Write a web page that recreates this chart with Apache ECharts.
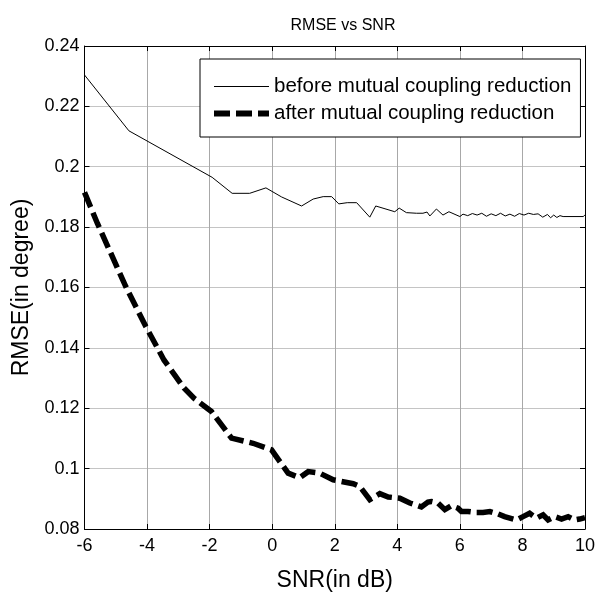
<!DOCTYPE html>
<html>
<head>
<meta charset="utf-8">
<script src="https://cdn.jsdelivr.net/npm/echarts@6/dist/echarts.min.js"></script>
<style>
html,body{margin:0;padding:0;background:#fff;}
#main{width:599px;height:603px;}
</style>
</head>
<body>
<div id="main"></div>
<script>
var titleText = 'RMSE vs SNR';
var xName = 'SNR(in dB)';
var yName = 'RMSE(in degree)';
var seriesNames = ['before mutual coupling reduction', 'after mutual coupling reduction'];

var snrBefore = [-6, -4.58, -1.92, -1.28, -0.72, -0.2, 0.3, 0.94, 1.31, 1.63, 1.9, 2.13, 2.4, 2.7, 3.12, 3.31, 3.92, 4.06, 4.29, 4.61, 4.82, 4.95, 5.04, 5.25, 5.46, 5.65, 6.0, 6.1, 6.25, 6.4, 6.55, 6.7, 6.85, 7.0, 7.15, 7.3, 7.45, 7.6, 7.75, 7.9, 8.05, 8.2, 8.35, 8.5, 8.65, 8.8, 8.9, 9.0, 9.1, 9.2, 9.3, 9.95, 10.0];
var rmseBefore = [0.2304, 0.2119, 0.1965, 0.1912, 0.1912, 0.1930, 0.1900, 0.1870, 0.1893, 0.1901, 0.1901, 0.1877, 0.1881, 0.1881, 0.1833, 0.1870, 0.1851, 0.1863, 0.1848, 0.1846, 0.1846, 0.1850, 0.1837, 0.1860, 0.1840, 0.1851, 0.1835, 0.1843, 0.1838, 0.1845, 0.1840, 0.1846, 0.1836, 0.1844, 0.1838, 0.1846, 0.1837, 0.1843, 0.1836, 0.1845, 0.1840, 0.1846, 0.1842, 0.1844, 0.1833, 0.1842, 0.1831, 0.1840, 0.1832, 0.1838, 0.1835, 0.1835, 0.1841];

var snrAfter = [-6, -5.59, -4.68, -4.04, -3.46, -2.82, -2.5, -2.08, -1.94, -1.3, -0.61, -0.02, 0.51, 0.88, 1.15, 1.52, 1.95, 2.59, 2.8, 3.12, 3.44, 3.71, 4.08, 4.4, 4.77, 4.98, 5.09, 5.3, 5.52, 5.73, 5.94, 6.05, 6.26, 6.48, 6.74, 6.96, 7.22, 7.43, 7.81, 8.02, 8.23, 8.45, 8.66, 8.82, 9.03, 9.25, 9.46, 9.67, 9.83, 10.0];
var rmseAfter = [0.1915, 0.1813, 0.1603, 0.1471, 0.1360, 0.1267, 0.1233, 0.1200, 0.1189, 0.1101, 0.1084, 0.1062, 0.0985, 0.0970, 0.0990, 0.0985, 0.0963, 0.0950, 0.0941, 0.0897, 0.0917, 0.0906, 0.0902, 0.0886, 0.0873, 0.0889, 0.0891, 0.0886, 0.0864, 0.0877, 0.0869, 0.0858, 0.0858, 0.0855, 0.0855, 0.0858, 0.0850, 0.0841, 0.0830, 0.0841, 0.0852, 0.0836, 0.0847, 0.0830, 0.0841, 0.0833, 0.0841, 0.0830, 0.0833, 0.0838];

var xTicks = {min: -6, max: 10, interval: 2};
var yTicks = {min: 0.08, max: 0.24, interval: 0.02};

function pairs(xs, ys) { return xs.map(function (x, i) { return [x, ys[i]]; }); }

var FONT = 'Liberation Sans, Arial, Helvetica, sans-serif';
var chart = echarts.init(document.getElementById('main'), null, {renderer: 'canvas'});
var tickStyle = {show: true, inside: true, length: 5, lineStyle: {color: '#000', width: 1}};
var dashPattern = [16, 6];
chart.setOption({
  animation: false,
  backgroundColor: '#fff',
  title: {
    text: titleText, left: 338, top: 13, textAlign: 'center',
    textStyle: {fontFamily: FONT, fontSize: 16, fontWeight: 'normal', color: '#000'}
  },
  grid: {left: 84.5, right: 14, top: 46, bottom: 74, containLabel: false},
  legend: {
    orient: 'vertical', left: 200, top: 59,
    padding: [17, 9, 13, 11], itemGap: 6, itemWidth: 55, itemHeight: 14,
    backgroundColor: '#fff', borderColor: '#000', borderWidth: 1, borderRadius: 0,
    textStyle: {fontFamily: FONT, fontSize: 20.5, color: '#000', lineHeight: 20},
    itemStyle: {opacity: 0, color: 'transparent', borderWidth: 0},
    data: [
      {name: seriesNames[0], lineStyle: {color: '#000', width: 1, type: 'solid'}},
      {name: seriesNames[1], lineStyle: {color: '#000', width: 6, type: dashPattern, cap: 'butt'}}
    ]
  },
  xAxis: [{
    type: 'value', min: xTicks.min, max: xTicks.max, interval: xTicks.interval,
    name: xName, nameLocation: 'middle', nameGap: 40,
    nameTextStyle: {fontFamily: FONT, fontSize: 23, color: '#000'},
    axisLine: {show: true, onZero: false, lineStyle: {color: '#000', width: 1}},
    axisTick: tickStyle,
    axisLabel: {fontFamily: FONT, fontSize: 18, color: '#000', margin: 8},
    splitLine: {show: true, lineStyle: {color: '#a8a8a8', width: 1, type: 'solid'}}
  }, {
    type: 'value', position: 'top', min: xTicks.min, max: xTicks.max, interval: xTicks.interval,
    axisLine: {show: true, onZero: false, lineStyle: {color: '#000', width: 1}},
    axisTick: tickStyle, axisLabel: {show: false}, splitLine: {show: false}
  }],
  yAxis: [{
    type: 'value', min: yTicks.min, max: yTicks.max, interval: yTicks.interval,
    name: yName, nameLocation: 'middle', nameGap: 50,
    nameTextStyle: {fontFamily: FONT, fontSize: 23, color: '#000'},
    axisLine: {show: true, onZero: false, lineStyle: {color: '#000', width: 1}},
    axisTick: tickStyle,
    axisLabel: {fontFamily: FONT, fontSize: 18, color: '#000', margin: 5},
    splitLine: {show: true, lineStyle: {color: '#888', width: 1, type: [1, 1]}}
  }, {
    type: 'value', position: 'right', min: yTicks.min, max: yTicks.max, interval: yTicks.interval,
    axisLine: {show: true, onZero: false, lineStyle: {color: '#000', width: 1}},
    axisTick: tickStyle, axisLabel: {show: false}, splitLine: {show: false}
  }],
  series: [{
    name: seriesNames[0], type: 'line', data: pairs(snrBefore, rmseBefore),
    showSymbol: false, symbol: 'none', smooth: false,
    lineStyle: {color: '#000', width: 1, type: 'solid'},
    itemStyle: {color: '#000'}
  }, {
    name: seriesNames[1], type: 'line', data: pairs(snrAfter, rmseAfter),
    showSymbol: false, symbol: 'none', smooth: false,
    lineStyle: {color: '#000', width: 5.5, type: dashPattern, cap: 'butt', join: 'miter'},
    itemStyle: {color: '#000'}
  }]
});
</script>
</body>
</html>
